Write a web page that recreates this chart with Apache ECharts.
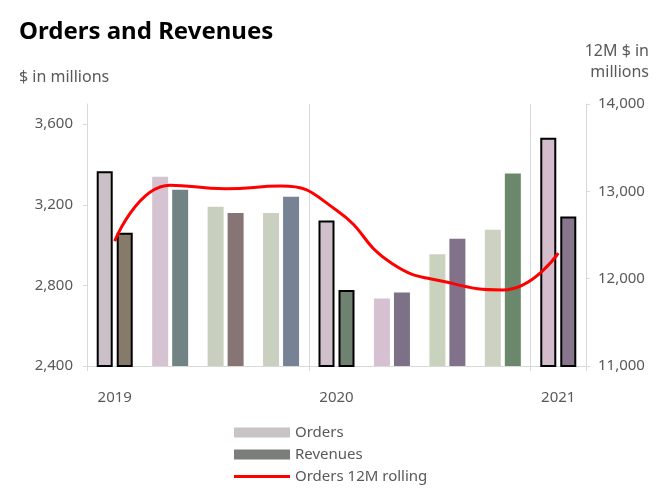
<!DOCTYPE html>
<html>
<head>
<meta charset="utf-8">
<script src="https://cdn.jsdelivr.net/npm/echarts@6/dist/echarts.min.js"></script>
<style>html,body{margin:0;padding:0;background:#fff;}#c{width:669px;height:492px;}</style>
</head>
<body>
<div id="c"></div>
<script>
const categories = ['1Q19','2Q19','3Q19','4Q19','1Q20','2Q20','3Q20','4Q20','1Q21'];
const tickLabels = ['2019','','','','2020','','','','2021'];
const orders = [3366, 3339, 3190, 3159, 3122, 2735, 2955, 3076, 3533];
const revenues = [3061, 3275, 3159, 3240, 2777, 2765, 3031, 3355, 3142];
const orders12M = [12430, 13071, 13029, 13060, 12784, 12174, 11959, 11871, 12292];
const highlighted = [true, false, false, false, true, false, false, false, true];
const orderColors = ['#cbc0c7','#d6c3d1','#c9cfbf','#cad0bf','#cfc0c9','#d6c1d3','#c8d2bd','#cdd1c1','#d3bdcc'];
const revenueColors = ['#867b6b','#728385','#877575','#768395','#6f8171','#7c7187','#82718a','#6b876c','#88768c'];

const labelColor = '#595959';
const axisColor = '#d9d9d9';
const font = 'Noto Sans';

const chart = echarts.init(document.getElementById('c'), null, {renderer: 'canvas'});
function barData(vals, colors) {
  return vals.map((v, i) => ({
    value: v,
    itemStyle: {
      color: colors[i],
      borderColor: highlighted[i] ? '#000' : colors[i],
      borderWidth: highlighted[i] ? 2 : 0
    }
  }));
}
const subStyle = {fontFamily: font, fontSize: 16, fontWeight: 'normal', color: labelColor};
chart.setOption({
  animation: false,
  textStyle: {fontFamily: font},
  title: [
    {text: 'Orders and Revenues', left: 14, top: 15, textStyle: {fontFamily: font, fontSize: 24, fontWeight: 'bold', color: '#000'}},
    {text: '$ in millions', left: 14, top: 64, textStyle: subStyle},
    {text: '12M $ in', right: 15, top: 38, textStyle: subStyle},
    {text: 'millions', right: 15, top: 59, textStyle: subStyle}
  ],
  legend: {
    orient: 'vertical', left: 229, top: 420, itemWidth: 56, itemHeight: 10, itemGap: 7,
    textStyle: {fontFamily: font, fontSize: 15, color: labelColor},
    data: [
      {name: 'Orders', icon: 'rect'},
      {name: 'Revenues', icon: 'rect'},
      {name: 'Orders 12M rolling', icon: 'path://M0,0L56,0L56,3L0,3Z', itemStyle: {color: '#ff0000'}}
    ]
  },
  grid: {left: 87, top: 104, width: 499, height: 262},
  xAxis: {
    type: 'category', data: categories, boundaryGap: true,
    axisLine: {lineStyle: {color: axisColor, width: 1}},
    axisTick: {show: true, length: 5, interval: (i) => i === 0 || i === 4 || i === 8, lineStyle: {color: axisColor}},
    splitLine: {show: true, interval: (i) => i === 4 || i === 8, lineStyle: {color: axisColor, width: 1}},
    axisLabel: {interval: 0, margin: 24, fontSize: 15, color: labelColor, fontFamily: font, formatter: (v, i) => tickLabels[i]}
  },
  yAxis: [
    {
      type: 'value', min: 2400, max: 3700, interval: 400, position: 'left',
      axisLine: {show: true, lineStyle: {color: axisColor}},
      axisTick: {show: true, length: 4, lineStyle: {color: axisColor}},
      splitLine: {show: false},
      axisLabel: {showMaxLabel: false, margin: 14, fontSize: 15, color: labelColor, fontFamily: font,
        formatter: (v) => v.toLocaleString('en-US')}
    },
    {
      type: 'value', min: 11000, max: 14000, interval: 1000, position: 'right',
      axisLine: {show: true, lineStyle: {color: axisColor}},
      axisTick: {show: true, length: 4, lineStyle: {color: axisColor}},
      splitLine: {show: false},
      axisLabel: {margin: 12, fontSize: 15, color: labelColor, fontFamily: font,
        formatter: (v) => v.toLocaleString('en-US')}
    }
  ],
  series: [
    {name: 'Orders', type: 'bar', barWidth: 16, barGap: '25%', color: '#c9c3c7', data: barData(orders, orderColors)},
    {name: 'Revenues', type: 'bar', barWidth: 16, barGap: '25%', color: '#7b7e7b', data: barData(revenues, revenueColors)},
    {name: 'Orders 12M rolling', type: 'line', yAxisIndex: 1, smooth: 0.5, symbol: 'none', z: 5,
      color: '#ff0000', lineStyle: {color: '#ff0000', width: 3}, data: orders12M}
  ]
});
</script>
</body>
</html>
